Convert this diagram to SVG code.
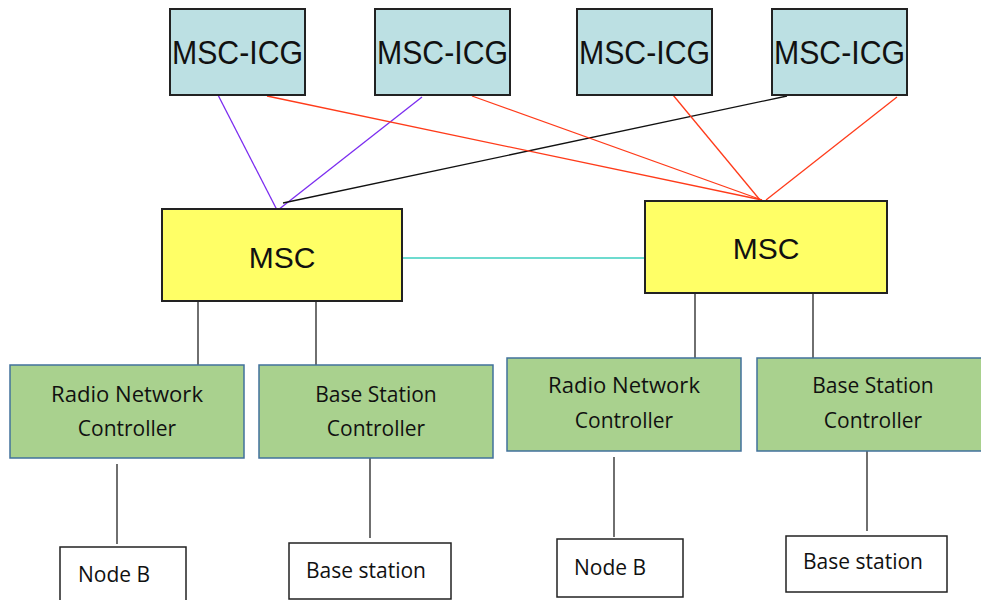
<svg xmlns="http://www.w3.org/2000/svg" width="981" height="600" viewBox="0 0 981 600">
<style>
.icg rect{fill:#bce0e3;stroke:#222;stroke-width:2}
.icg text{font-family:"Liberation Sans",Arial,sans-serif;font-size:34px;fill:#111;text-anchor:middle}
.msc rect{fill:#ffff66;stroke:#222;stroke-width:2}
.msc text{font-family:"Liberation Sans",Arial,sans-serif;font-size:30px;fill:#111;text-anchor:middle}
.ctl rect{fill:#a9d18e;stroke:#41719c;stroke-width:1.5}
.ctl text{font-family:"Open Sans","Noto Sans",sans-serif;font-size:21px;fill:#111;text-anchor:middle}
.leaf rect{fill:#fff;stroke:#222;stroke-width:1.5}
.leaf text{font-family:"Open Sans","Noto Sans",sans-serif;font-size:21px;fill:#111}
#connectors line{stroke-width:1.3}
</style>
<rect width="981" height="600" fill="#fff"/>
<g id="connectors">
<line x1="218" y1="95" x2="277" y2="210" stroke="#7b2cf0"/>
<line x1="422" y1="97" x2="278" y2="210" stroke="#7b2cf0"/>
<line x1="283" y1="203" x2="787" y2="96" stroke="#111"/>
<line x1="267" y1="96" x2="762" y2="200" stroke="#ff3b1a"/>
<line x1="472" y1="96" x2="762" y2="200" stroke="#ff3b1a"/>
<line x1="673" y1="95" x2="760" y2="200" stroke="#ff3b1a"/>
<line x1="897" y1="97" x2="766" y2="200" stroke="#ff3b1a"/>
<line x1="402" y1="258" x2="645" y2="258" stroke="#3ccfbf"/>
<line x1="198" y1="301" x2="198" y2="366" stroke="#222"/>
<line x1="316" y1="301" x2="316" y2="366" stroke="#222"/>
<line x1="695" y1="293" x2="695" y2="358" stroke="#222"/>
<line x1="813" y1="293" x2="813" y2="358" stroke="#222"/>
<line x1="117" y1="464" x2="117" y2="544" stroke="#222"/>
<line x1="370" y1="458" x2="370" y2="538" stroke="#222"/>
<line x1="614" y1="457" x2="614" y2="537" stroke="#222"/>
<line x1="867" y1="451" x2="867" y2="531" stroke="#222"/>
</g>
<g id="icg1" class="icg"><rect x="170" y="9" width="135" height="86"/><text x="237.5" y="64" textLength="131" lengthAdjust="spacingAndGlyphs">MSC-ICG</text></g>
<g id="icg2" class="icg"><rect x="375" y="9" width="135" height="86"/><text x="442.5" y="64" textLength="131" lengthAdjust="spacingAndGlyphs">MSC-ICG</text></g>
<g id="icg3" class="icg"><rect x="577" y="9" width="135" height="86"/><text x="644.5" y="64" textLength="131" lengthAdjust="spacingAndGlyphs">MSC-ICG</text></g>
<g id="icg4" class="icg"><rect x="772" y="9" width="135" height="86"/><text x="839.5" y="64" textLength="131" lengthAdjust="spacingAndGlyphs">MSC-ICG</text></g>
<g id="msc1" class="msc"><rect x="162" y="209" width="240" height="92"/><text x="282" y="268">MSC</text></g>
<g id="msc2" class="msc"><rect x="645" y="201" width="242" height="92"/><text x="766" y="259">MSC</text></g>
<g id="rnc1" class="ctl"><rect x="10" y="365" width="234" height="93"/><text x="127" y="402" textLength="152" lengthAdjust="spacingAndGlyphs">Radio Network</text><text x="127" y="436">Controller</text></g>
<g id="bsc1" class="ctl"><rect x="259" y="365" width="234" height="93"/><text x="376" y="402">Base Station</text><text x="376" y="436">Controller</text></g>
<g id="rnc2" class="ctl"><rect x="507" y="358" width="234" height="93"/><text x="624" y="393" textLength="152" lengthAdjust="spacingAndGlyphs">Radio Network</text><text x="624" y="428">Controller</text></g>
<g id="bsc2" class="ctl"><rect x="757" y="358" width="234" height="93"/><text x="873" y="393">Base Station</text><text x="873" y="428">Controller</text></g>
<g id="nodeb1" class="leaf"><rect x="60" y="547" width="126" height="60"/><text x="78" y="582">Node B</text></g>
<g id="bs1" class="leaf"><rect x="289" y="543" width="162" height="56"/><text x="306" y="578">Base station</text></g>
<g id="nodeb2" class="leaf"><rect x="557" y="539" width="126" height="58"/><text x="574" y="575">Node B</text></g>
<g id="bs2" class="leaf"><rect x="786" y="536" width="161" height="56"/><text x="803" y="569">Base station</text></g>
</svg>
